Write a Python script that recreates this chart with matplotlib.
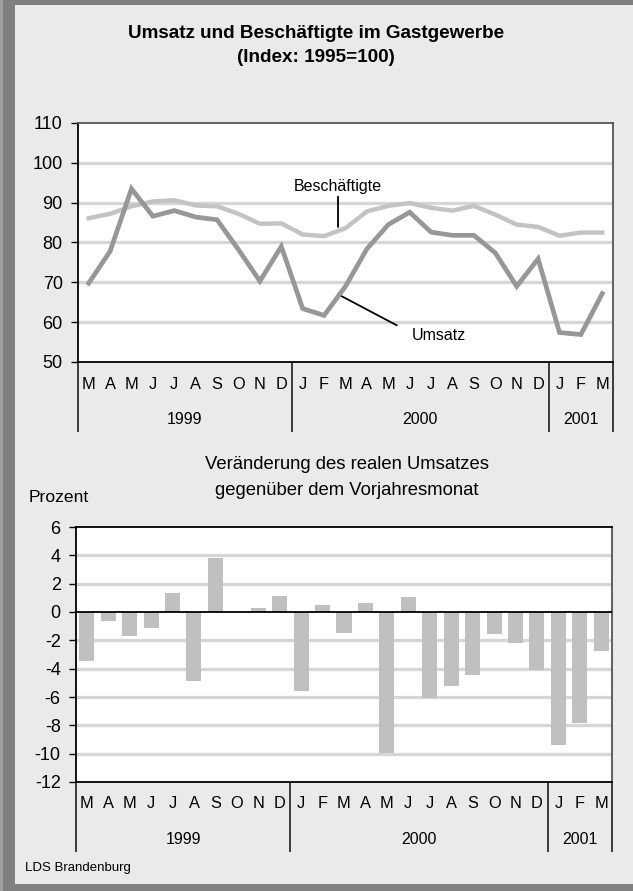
import matplotlib
matplotlib.use("Agg")
import matplotlib.pyplot as plt
from matplotlib.patches import Rectangle

plt.rcParams['font.family'] = ['Liberation Sans', 'DejaVu Sans']
plt.rcParams['axes.unicode_minus'] = False

months = ["M", "A", "M", "J", "J", "A", "S", "O", "N", "D",
          "J", "F", "M", "A", "M", "J", "J", "A", "S", "O", "N", "D",
          "J", "F", "M"]
years = ["1999", "2000", "2001"]
year_counts = [10, 12, 3]

umsatz = [69.8, 77.8, 93.5, 86.6, 88.0, 86.4, 85.7, 78.2, 70.3, 79.0,
          63.4, 61.7, 69.0, 78.4, 84.5, 87.6, 82.6, 81.8, 81.8, 77.4,
          69.0, 75.9, 57.4, 56.9, 67.2]
beschaeftigte = [86.1, 87.2, 89.1, 90.3, 90.6, 89.3, 89.1, 87.2, 84.7, 84.8,
                 82.0, 81.6, 83.6, 87.8, 89.2, 89.9, 88.7, 88.0, 89.2, 87.0,
                 84.5, 83.9, 81.7, 82.5, 82.5]
veraenderung = [-3.46, -0.67, -1.72, -1.15, 1.35, -4.89, 3.79, 0.0, 0.31, 1.14,
                -5.58, 0.52, -1.50, 0.64, -9.95, 1.07, -6.09, -5.22, -4.45, -1.55,
                -2.19, -4.09, -9.39, -7.84, -2.75]

W, H = 633, 891
fig = plt.figure(figsize=(W / 100, H / 100), dpi=100)
fig.patch.set_facecolor('#808080')

# inner light panel
fig.patches.append(Rectangle((0, 0), 3 / W, 1, transform=fig.transFigure,
                             facecolor='#a0a0a0', edgecolor='none', zorder=-2))
fig.patches.append(Rectangle((15 / W, 1 - 884 / H), (W - 15) / W, (884 - 5) / H,
                             transform=fig.transFigure, facecolor='#eaeaea',
                             edgecolor='none', zorder=-2))


def axes_px(left, top, right, bottom):
    ax = fig.add_axes([left / W, 1 - bottom / H, (right - left) / W, (bottom - top) / H])
    ax.set_zorder(1)
    return ax


def fy(y):
    return 1 - y / H


GRID = '#d6d6d6'
SEP = '#3c3c3c'


def category_axis(ax, top_px, bottom_px, month_y, year_y, line_end):
    h = bottom_px - top_px
    tr = ax.get_xaxis_transform()
    n = len(months)
    for i, m in enumerate(months):
        ax.text(i, -(month_y - bottom_px) / h, m, transform=tr, ha='center',
                va='center', fontsize=11.8, color='black')
    start = -0.5
    bounds = [start]
    for yl, c in zip(years, year_counts):
        ax.text(start + c / 2, -(year_y - bottom_px) / h, yl, transform=tr,
                ha='center', va='center', fontsize=11.5, color='black')
        start += c
        bounds.append(start)
    for b in bounds:
        ax.plot([b, b], [0, -(line_end - bottom_px) / h], transform=tr,
                color=SEP, lw=1.4, clip_on=False, solid_capstyle='butt')
    ax.set_xlim(-0.5, n - 0.5)
    ax.set_xticks([])


# ---------------- top chart ----------------
ax1 = axes_px(78, 123, 613, 362)
ax1.set_facecolor('white')
x = list(range(len(months)))
for g in [60, 70, 80, 90, 100]:
    ax1.axhline(g, color=GRID, lw=2.4, zorder=1)
ax1.plot(x, beschaeftigte, color='#c3c3c3', lw=3.2, zorder=3, solid_joinstyle='miter')
ax1.plot(x, umsatz, color='#979797', lw=3.4, zorder=4, solid_joinstyle='miter')
ax1.set_ylim(50, 110)
ax1.set_yticks([50, 60, 70, 80, 90, 100, 110])
ax1.tick_params(axis='y', labelsize=13, length=5, width=1, pad=6)
for s in ['left', 'bottom']:
    ax1.spines[s].set_color('black')
    ax1.spines[s].set_linewidth(1.3)
for s in ['top', 'right']:
    ax1.spines[s].set_color('#555555')
    ax1.spines[s].set_linewidth(1.3)
category_axis(ax1, 123, 362, 385, 420, 432)

# annotations
ax1.annotate("Beschäftigte", xy=(11.65, 83.9), xytext=(11.65, 92.2),
             textcoords='data', ha='center', va='bottom', fontsize=11.5,
             arrowprops=dict(arrowstyle='-', color='black', lw=1.3,
                             shrinkA=0, shrinkB=0))
ax1.annotate("", xy=(11.65, 67.0), xytext=(14.4, 59.2),
             arrowprops=dict(arrowstyle='-', color='black', lw=1.3,
                             shrinkA=0, shrinkB=0))
ax1.text(15.1, 56.7, "Umsatz", ha='left', va='center', fontsize=11.5)

# ---------------- bottom chart ----------------
ax2 = axes_px(76, 527, 612, 782)
ax2.set_facecolor('white')
for g in [4, 2, -2, -4, -6, -8, -10]:
    ax2.axhline(g, color=GRID, lw=2.4, zorder=1)
ax2.bar(x, veraenderung, width=0.7, color='#c0c0c0', zorder=3)
ax2.axhline(0, color='black', lw=1.3, zorder=4)
ax2.set_ylim(-12, 6)
ax2.set_yticks(list(range(-12, 7, 2)))
ax2.tick_params(axis='y', labelsize=13, length=5, width=1, pad=6)
for s in ['left', 'bottom', 'top']:
    ax2.spines[s].set_color('black')
    ax2.spines[s].set_linewidth(1.3)
ax2.spines['right'].set_color('#555555')
ax2.spines['right'].set_linewidth(1.3)
category_axis(ax2, 527, 782, 804, 840, 852)

# ---------------- texts ----------------
fig.text(316 / W, fy(34), "Umsatz und Beschäftigte im Gastgewerbe", ha='center',
         va='center', fontsize=13.6, fontweight='bold')
fig.text(316 / W, fy(58), "(Index: 1995=100)", ha='center', va='center',
         fontsize=13.6, fontweight='bold')
fig.text(346.5 / W, fy(465), "Veränderung des realen Umsatzes", ha='center',
         va='center', fontsize=13.3)
fig.text(346.5 / W, fy(490), "gegenüber dem Vorjahresmonat", ha='center',
         va='center', fontsize=13.3)
fig.text(29 / W, fy(497), "Prozent", ha='left', va='center', fontsize=12.6)
fig.text(25 / W, fy(868), "LDS Brandenburg", ha='left', va='center', fontsize=9.5)

fig.savefig("out.png", dpi=100, facecolor=fig.get_facecolor())
